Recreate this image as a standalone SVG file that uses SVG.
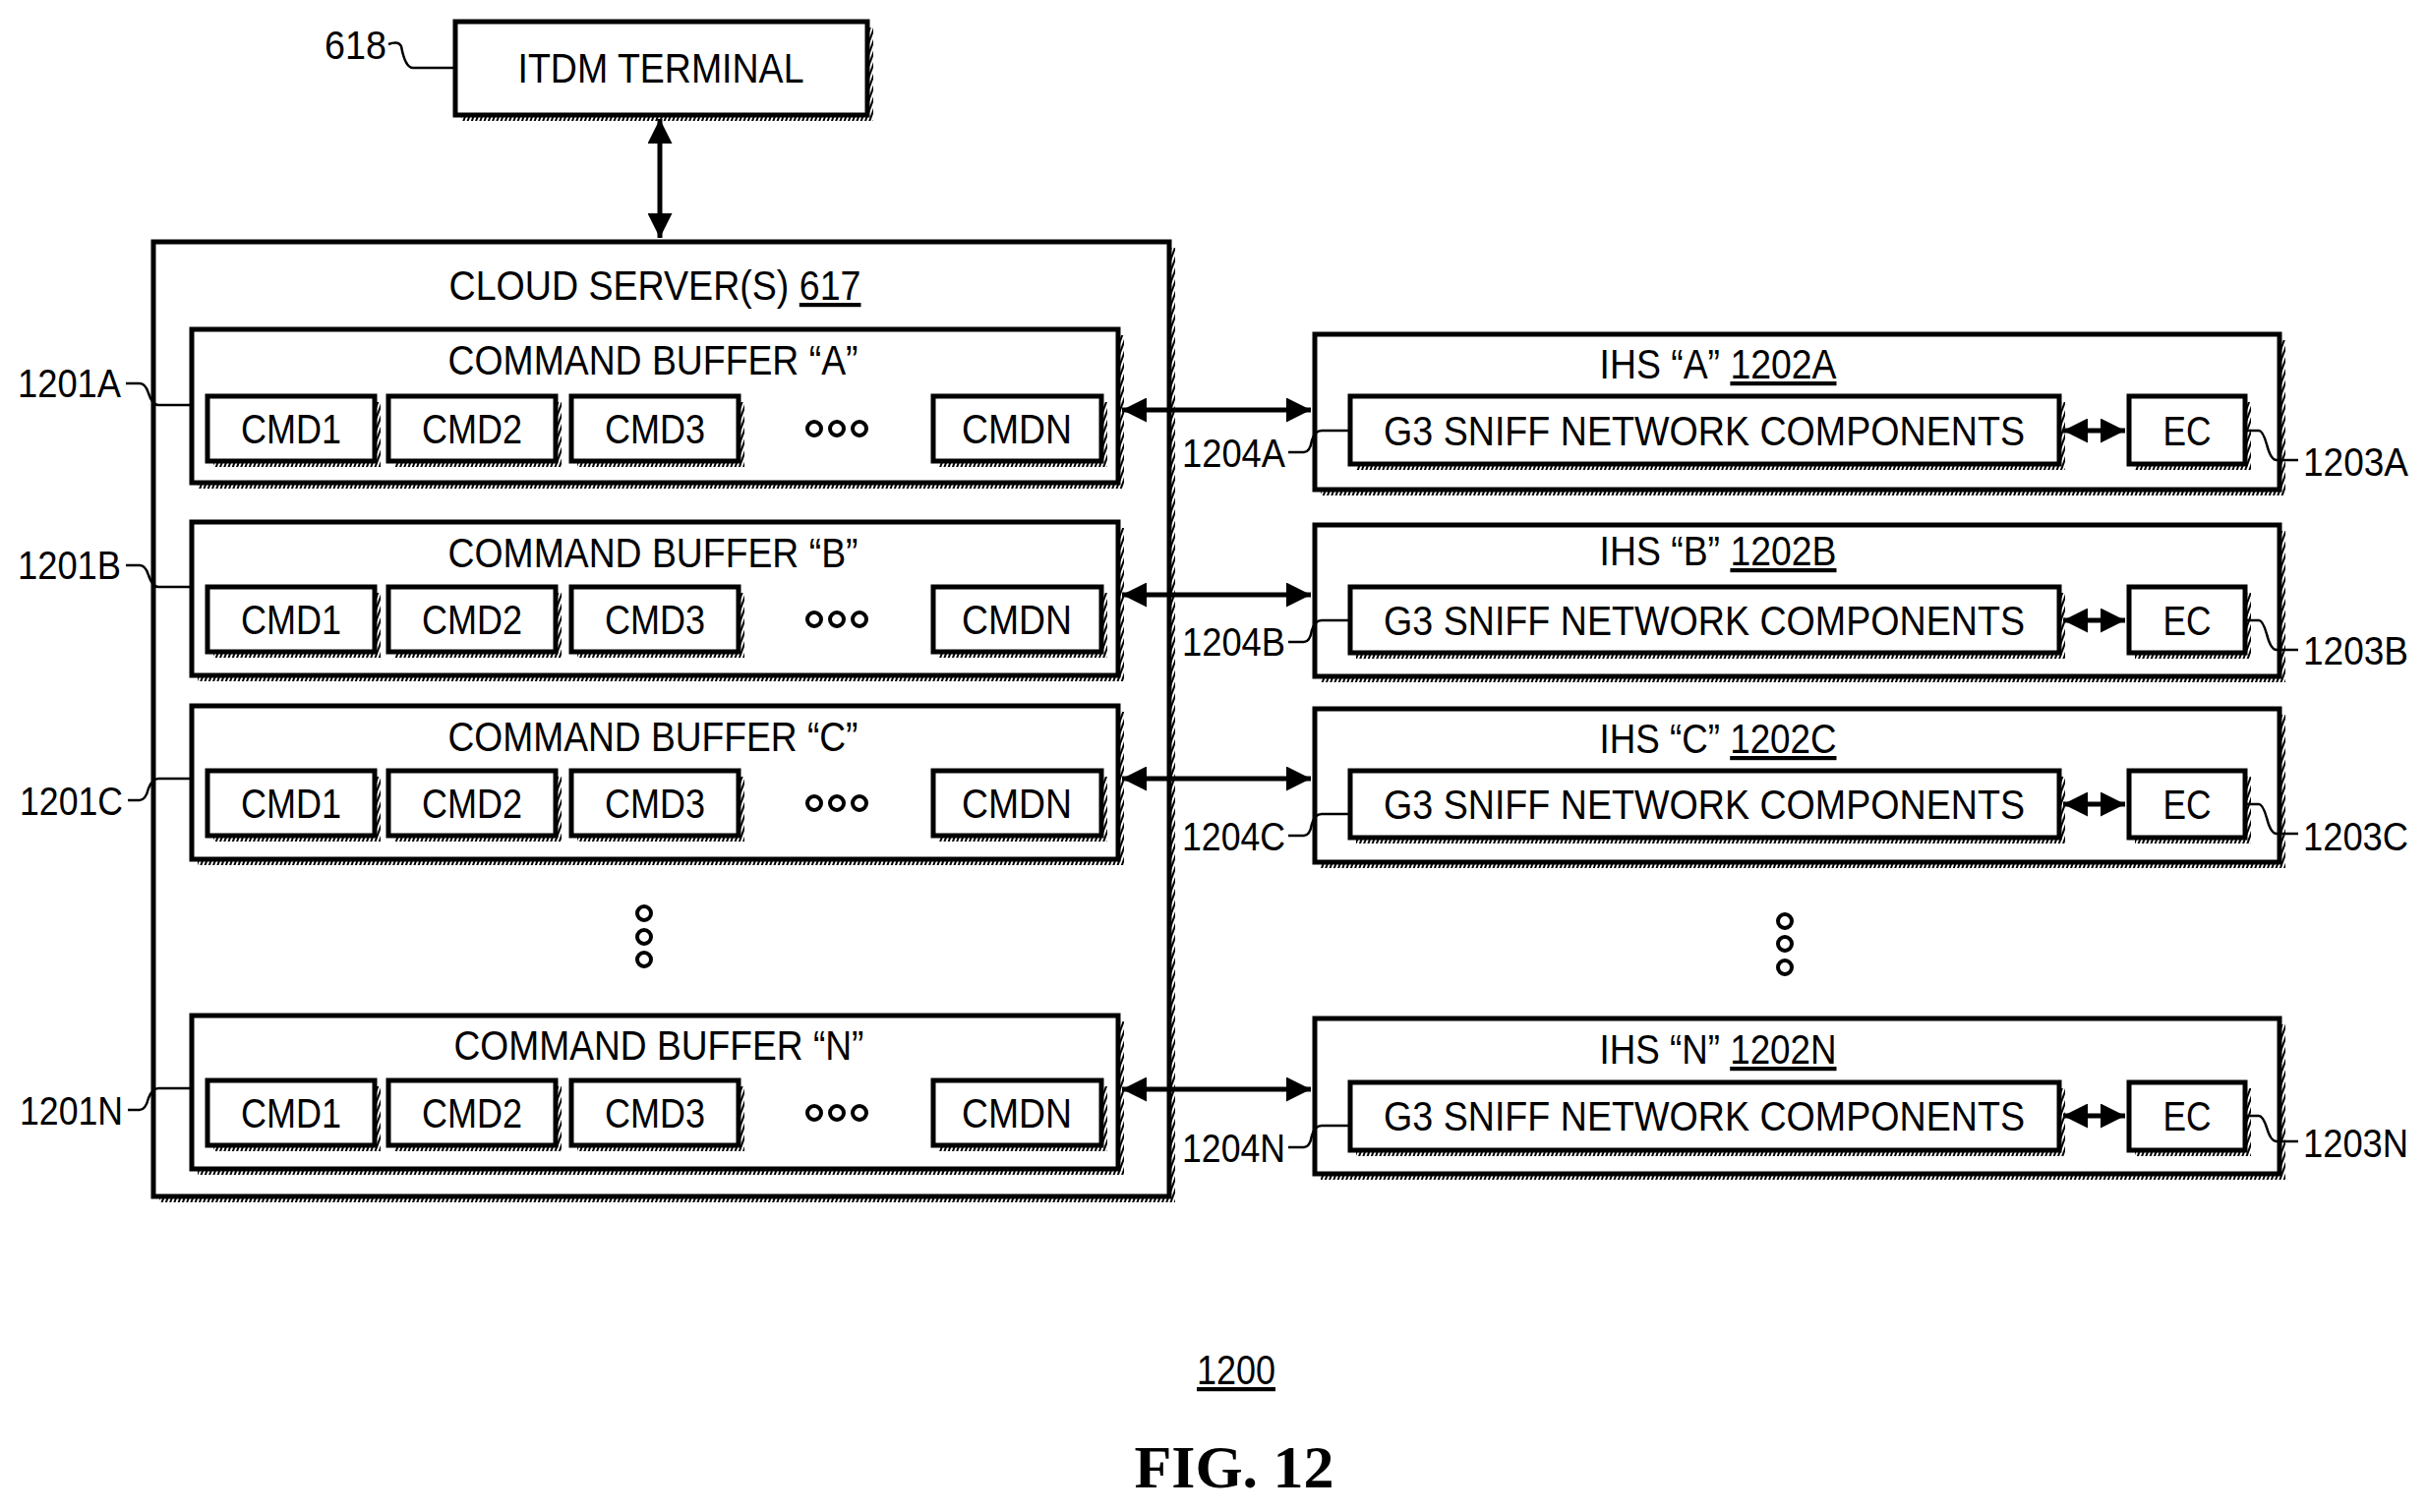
<svg xmlns="http://www.w3.org/2000/svg" width="2469" height="1538" viewBox="0 0 2469 1538">
<style>
.b{fill:#fff;stroke:#000;stroke-width:5}
.s{fill:url(#h)}
.t{font-family:"Liberation Sans",Arial,sans-serif;font-size:42px;fill:#000;text-anchor:middle}
.l{font-family:"Liberation Sans",Arial,sans-serif;font-size:40px;fill:#000}
.c{fill:none;stroke:#000;stroke-width:5}
.ld{fill:none;stroke:#000;stroke-width:2.5}
.u{text-decoration:underline}
</style>
<defs>
<pattern id="h" width="4" height="4" patternUnits="userSpaceOnUse" patternTransform="rotate(20)"><rect width="4" height="4" fill="#fff"/><rect width="2" height="4" fill="#000"/></pattern>
<marker id="a" viewBox="0 0 10 10" refX="10" refY="5" markerWidth="5" markerHeight="5" orient="auto-start-reverse"><path d="M0,0L10,5L0,10z"/></marker>
</defs>
<g id="n618"><rect class="s" x="469" y="28" width="419" height="95"/><rect class="b" x="463" y="22" width="419" height="95"/><text class="t" x="672" y="84" textLength="291" lengthAdjust="spacingAndGlyphs">ITDM TERMINAL</text>
<text class="l" x="330" y="60" textLength="63" lengthAdjust="spacingAndGlyphs">618</text><path class="ld" d="M395,45 q10,-4 13,2 q4,22 12,22 h43"/></g>
<g id="n617"><rect class="s" x="162" y="252" width="1033" height="971"/><rect class="b" x="156" y="246" width="1033" height="971"/><text class="t" x="666" y="305" textLength="419" lengthAdjust="spacingAndGlyphs">CLOUD SERVER(S) <tspan class="u">617</tspan></text></g>
<g id="buffers">
<g id="b1201A"><rect class="s" x="201" y="341" width="942" height="156"/><rect class="b" x="195" y="335" width="942" height="156"/><text class="t" x="664" y="381" textLength="417" lengthAdjust="spacingAndGlyphs">COMMAND BUFFER “A”</text></g>
<g id="b1201B"><rect class="s" x="201" y="537" width="942" height="156"/><rect class="b" x="195" y="531" width="942" height="156"/><text class="t" x="664" y="577" textLength="417" lengthAdjust="spacingAndGlyphs">COMMAND BUFFER “B”</text></g>
<g id="b1201C"><rect class="s" x="201" y="724" width="942" height="156"/><rect class="b" x="195" y="718" width="942" height="156"/><text class="t" x="664" y="764" textLength="417" lengthAdjust="spacingAndGlyphs">COMMAND BUFFER “C”</text></g>
<g id="b1201N"><rect class="s" x="201" y="1039" width="942" height="156"/><rect class="b" x="195" y="1033" width="942" height="156"/><text class="t" x="670" y="1078" textLength="417" lengthAdjust="spacingAndGlyphs">COMMAND BUFFER “N”</text></g>
</g>
<g id="cmds">
<g id="cmdA"><rect class="s" x="217" y="409" width="170" height="66"/><rect class="b" x="211" y="403" width="170" height="66"/><text class="t" x="296" y="451" textLength="102" lengthAdjust="spacingAndGlyphs">CMD1</text>
<rect class="s" x="401" y="409" width="170" height="66"/><rect class="b" x="395" y="403" width="170" height="66"/><text class="t" x="480" y="451" textLength="102" lengthAdjust="spacingAndGlyphs">CMD2</text>
<rect class="s" x="587" y="409" width="170" height="66"/><rect class="b" x="581" y="403" width="170" height="66"/><text class="t" x="666" y="451" textLength="102" lengthAdjust="spacingAndGlyphs">CMD3</text>
<rect class="s" x="955" y="409" width="171" height="66"/><rect class="b" x="949" y="403" width="171" height="66"/><text class="t" x="1034" y="451" textLength="112" lengthAdjust="spacingAndGlyphs">CMDN</text>
<g fill="none" stroke="#000" stroke-width="4"><circle cx="828" cy="436" r="7"/><circle cx="851" cy="436" r="7"/><circle cx="874" cy="436" r="7"/></g></g>
<use href="#cmdA" y="194"/>
<use href="#cmdA" y="381"/>
<use href="#cmdA" y="696"/>
<g fill="none" stroke="#000" stroke-width="4"><circle cx="655" cy="929" r="7"/><circle cx="655" cy="953" r="7"/><circle cx="655" cy="976" r="7"/><circle cx="1815" cy="937" r="7"/><circle cx="1815" cy="960" r="7"/><circle cx="1815" cy="984" r="7"/></g>
</g>
<g id="ihs">
<g id="ihsA"><rect class="s" x="1343" y="346" width="981" height="158"/><rect class="b" x="1337" y="340" width="981" height="158"/><text class="t" x="1747" y="385" textLength="241" lengthAdjust="spacingAndGlyphs">IHS “A” <tspan class="u">1202A</tspan></text>
<rect class="s" x="1379" y="409" width="721" height="69"/><rect class="b" x="1373" y="403" width="721" height="69"/><text class="t" x="1733" y="453" textLength="652" lengthAdjust="spacingAndGlyphs">G3 SNIFF NETWORK COMPONENTS</text>
<rect class="s" x="2171" y="409" width="118" height="69"/><rect class="b" x="2165" y="403" width="118" height="69"/><text class="t" x="2224" y="453" textLength="49" lengthAdjust="spacingAndGlyphs">EC</text>
<line class="c" x1="2098" y1="438" x2="2161" y2="438" marker-start="url(#a)" marker-end="url(#a)"/></g>
<g id="ihsB"><rect class="s" x="1343" y="540" width="981" height="154"/><rect class="b" x="1337" y="534" width="981" height="154"/><text class="t" x="1747" y="575" textLength="241" lengthAdjust="spacingAndGlyphs">IHS “B” <tspan class="u">1202B</tspan></text>
<rect class="s" x="1379" y="603" width="721" height="67"/><rect class="b" x="1373" y="597" width="721" height="67"/><text class="t" x="1733" y="646" textLength="652" lengthAdjust="spacingAndGlyphs">G3 SNIFF NETWORK COMPONENTS</text>
<rect class="s" x="2171" y="603" width="118" height="67"/><rect class="b" x="2165" y="597" width="118" height="67"/><text class="t" x="2224" y="646" textLength="49" lengthAdjust="spacingAndGlyphs">EC</text>
<line class="c" x1="2098" y1="631" x2="2161" y2="631" marker-start="url(#a)" marker-end="url(#a)"/></g>
<g id="ihsC"><rect class="s" x="1343" y="727" width="981" height="156"/><rect class="b" x="1337" y="721" width="981" height="156"/><text class="t" x="1747" y="766" textLength="241" lengthAdjust="spacingAndGlyphs">IHS “C” <tspan class="u">1202C</tspan></text>
<rect class="s" x="1379" y="790" width="721" height="68"/><rect class="b" x="1373" y="784" width="721" height="68"/><text class="t" x="1733" y="833" textLength="652" lengthAdjust="spacingAndGlyphs">G3 SNIFF NETWORK COMPONENTS</text>
<rect class="s" x="2171" y="790" width="118" height="68"/><rect class="b" x="2165" y="784" width="118" height="68"/><text class="t" x="2224" y="833" textLength="49" lengthAdjust="spacingAndGlyphs">EC</text>
<line class="c" x1="2098" y1="818" x2="2161" y2="818" marker-start="url(#a)" marker-end="url(#a)"/></g>
<g id="ihsN"><rect class="s" x="1343" y="1042" width="981" height="158"/><rect class="b" x="1337" y="1036" width="981" height="158"/><text class="t" x="1747" y="1082" textLength="241" lengthAdjust="spacingAndGlyphs">IHS “N” <tspan class="u">1202N</tspan></text>
<rect class="s" x="1379" y="1107" width="721" height="69"/><rect class="b" x="1373" y="1101" width="721" height="69"/><text class="t" x="1733" y="1150" textLength="652" lengthAdjust="spacingAndGlyphs">G3 SNIFF NETWORK COMPONENTS</text>
<rect class="s" x="2171" y="1107" width="118" height="69"/><rect class="b" x="2165" y="1101" width="118" height="69"/><text class="t" x="2224" y="1150" textLength="49" lengthAdjust="spacingAndGlyphs">EC</text>
<line class="c" x1="2098" y1="1135" x2="2161" y2="1135" marker-start="url(#a)" marker-end="url(#a)"/></g>
</g>
<g id="connectors">
<line class="c" x1="671" y1="121" x2="671" y2="242" marker-start="url(#a)" marker-end="url(#a)"/>
<line class="c" x1="1141" y1="417" x2="1333" y2="417" marker-start="url(#a)" marker-end="url(#a)"/>
<line class="c" x1="1141" y1="605" x2="1333" y2="605" marker-start="url(#a)" marker-end="url(#a)"/>
<line class="c" x1="1141" y1="792" x2="1333" y2="792" marker-start="url(#a)" marker-end="url(#a)"/>
<line class="c" x1="1141" y1="1108" x2="1333" y2="1108" marker-start="url(#a)" marker-end="url(#a)"/>
</g>
<g id="labels">
<text class="l" x="18" y="404" textLength="105" lengthAdjust="spacingAndGlyphs">1201A</text><path class="ld" d="M128,390 h14 q6,0 9,10 q4,12 10,12 h34"/>
<text class="l" x="18" y="589" textLength="105" lengthAdjust="spacingAndGlyphs">1201B</text><path class="ld" d="M128,575 h14 q6,0 9,10 q4,12 10,12 h34"/>
<text class="l" x="20" y="829" textLength="105" lengthAdjust="spacingAndGlyphs">1201C</text><path class="ld" d="M130,814 h12 q6,0 9,-12 q4,-10 10,-10 h34"/>
<text class="l" x="20" y="1144" textLength="105" lengthAdjust="spacingAndGlyphs">1201N</text><path class="ld" d="M130,1129 h12 q6,0 9,-12 q4,-10 10,-10 h34"/>
<text class="l" x="1202" y="475" textLength="105" lengthAdjust="spacingAndGlyphs">1204A</text><path class="ld" d="M1310,460 h16 q6,0 8,-12 q3,-10 10,-10 h29"/>
<text class="l" x="1202" y="667" textLength="105" lengthAdjust="spacingAndGlyphs">1204B</text><path class="ld" d="M1310,653 h16 q6,0 8,-12 q3,-10 10,-10 h29"/>
<text class="l" x="1202" y="865" textLength="105" lengthAdjust="spacingAndGlyphs">1204C</text><path class="ld" d="M1310,850 h16 q6,0 8,-12 q3,-10 10,-10 h29"/>
<text class="l" x="1202" y="1182" textLength="105" lengthAdjust="spacingAndGlyphs">1204N</text><path class="ld" d="M1310,1167 h16 q6,0 8,-12 q3,-10 10,-10 h29"/>
<text class="l" x="2342" y="484" textLength="107" lengthAdjust="spacingAndGlyphs">1203A</text><path class="ld" d="M2283,438 h14 q4,0 8,14 q4,16 10,16 h22"/>
<text class="l" x="2342" y="676" textLength="107" lengthAdjust="spacingAndGlyphs">1203B</text><path class="ld" d="M2283,631 h14 q4,0 8,14 q4,16 10,16 h22"/>
<text class="l" x="2342" y="865" textLength="107" lengthAdjust="spacingAndGlyphs">1203C</text><path class="ld" d="M2283,818 h14 q4,0 8,14 q4,16 10,16 h22"/>
<text class="l" x="2342" y="1177" textLength="107" lengthAdjust="spacingAndGlyphs">1203N</text><path class="ld" d="M2283,1135 h14 q4,0 8,12 q4,14 10,14 h22"/>
<text class="t" x="1257" y="1408" textLength="80" lengthAdjust="spacingAndGlyphs"><tspan class="u">1200</tspan></text>
<text x="1255" y="1513" font-family="Liberation Serif,serif" font-weight="bold" font-size="62" text-anchor="middle">FIG. 12</text>
</g>
</svg>
